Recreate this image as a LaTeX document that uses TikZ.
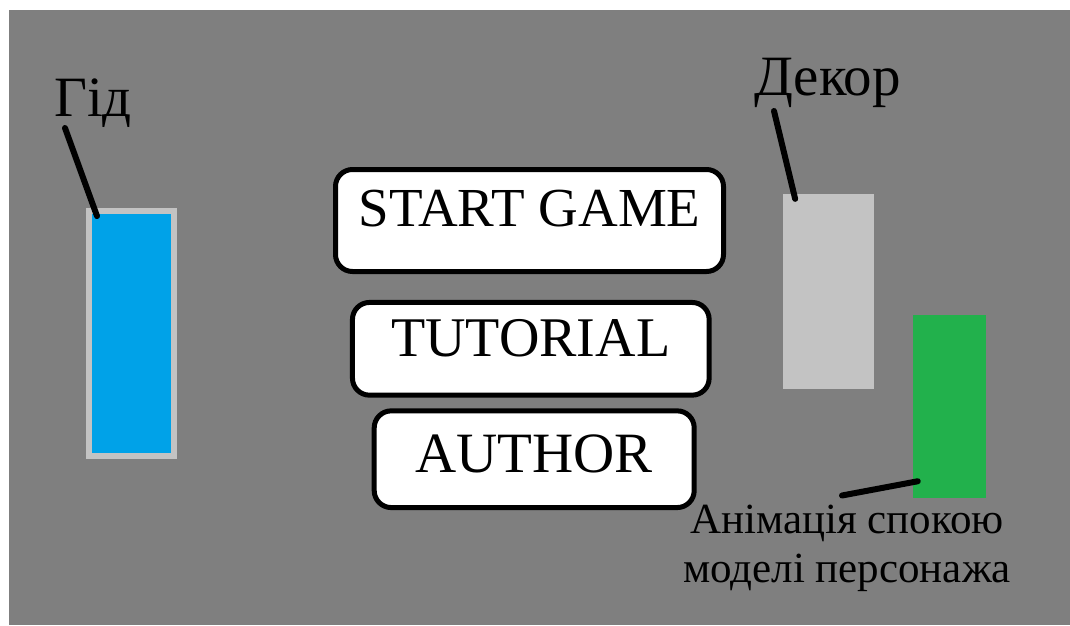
\documentclass[tikz,border=0pt]{standalone}
\usepackage{fontspec}
\setmainfont{Liberation Serif}

\definecolor{screengray}{HTML}{7F7F7F}
\definecolor{guideblue}{HTML}{00A2E8}
\definecolor{lightgray}{HTML}{C3C3C3}
\definecolor{idlegreen}{HTML}{22B14C}

\tikzset{
	button/.style={rectangle, draw=black, fill=white, line width=5pt, rounded corners=17pt,
		inner xsep=0pt, inner ysep=0pt},
	label/.style={inner sep=0pt, font=\fontsize{57}{64}\selectfont},
	pointer/.style={line width=6pt, line cap=round},
}

\begin{document}
\begin{tikzpicture}[x=1pt, y=-1pt]
\useasboundingbox (0,0) rectangle (1070,625);
\fill[white] (0,0) rectangle (1070,625);
\fill[screengray] (9,10) rectangle (1070,625);

% menu buttons
\foreach \n/\x/\y/\w/\th/\td/\f/\t in {
	start/529.5/220.5/388/57.2/44.8/55/START GAME%
	,tutorial/530.8/348.8/356.7/54.2/38.5/56/TUTORIAL%
	,author/534.2/459.2/320/61.9/34.8/57/AUTHOR%
}{
	\node[button, minimum width=\w pt, text height=\th pt, text depth=\td pt,
		font=\fontsize{\f}{\f}\selectfont] (\n) at(\x,\y) {\t};
}

% scene objects
\node[rectangle, fill=guideblue, draw=lightgray, line width=6pt, minimum width=85.6pt, minimum height=245.3pt, inner sep=0pt] (guide) at(131.5,333.4) {};
\node[rectangle, fill=lightgray, minimum width=90.7pt, minimum height=195.3pt, inner sep=0pt] (decor) at(828.7,291.7) {};
\node[rectangle, fill=idlegreen, minimum width=73.3pt, minimum height=183.3pt, inner sep=0pt] (idle) at(949.3,406.7) {};

% captions
\node[label, anchor=base west] (gid) at(54,116) {Гід};
\node[label, anchor=base west] (dekor) at(754,95) {Декор};
\node[inner sep=0pt, align=center, anchor=base, font=\fontsize{43}{49}\selectfont] (anim) at(847,582.7) {Анімація спокою\\моделі персонажа};

\draw[pointer] ([shift={(11,12)}]gid.base west) -- ([shift={(11.3,8.3)}]guide.north west);
\draw[pointer] ([shift={(20,16)}]dekor.base west) -- ([shift={(12,5)}]decor.north west);
\draw[pointer] ([shift={(-5,-87.2)}]anim.base) -- ([shift={(5.3,-17.3)}]idle.south west);
\end{tikzpicture}
\end{document}
